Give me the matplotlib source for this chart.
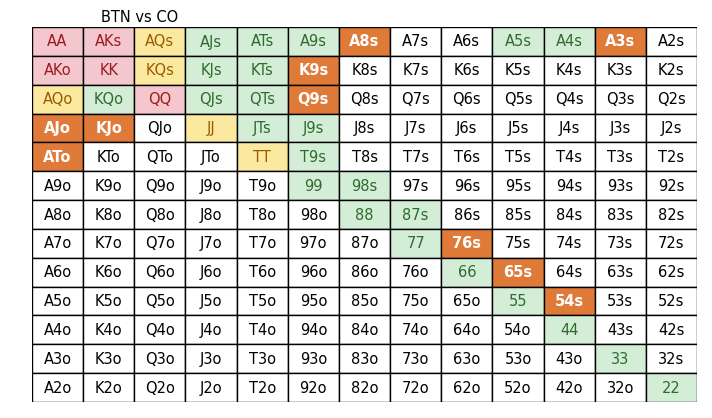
import matplotlib.pyplot as plt
from matplotlib.patches import Rectangle

ranks = ["A", "K", "Q", "J", "T", "9", "8", "7", "6", "5", "4", "3", "2"]
title = "BTN vs CO"

pink_hands = ["AA", "AKs", "AKo", "KK", "QQ"]
yellow_hands = ["AQs", "KQs", "AQo", "JJ", "TT"]
green_hands = ["AJs", "ATs", "A9s", "A5s", "A4s", "KJs", "KTs", "KQo", "QJs", "QTs",
               "JTs", "J9s", "T9s", "99", "98s", "88", "87s", "77", "66", "55", "44", "33", "22"]
orange_hands = ["A8s", "A3s", "K9s", "Q9s", "AJo", "KJo", "ATo", "76s", "65s", "54s"]

styles = {
    "pink": ("#F4C7CE", "#9C1C1C", "normal"),
    "yellow": ("#FCE9A0", "#9C5A00", "normal"),
    "green": ("#D4EDD6", "#2E6B2E", "normal"),
    "orange": ("#E07A38", "white", "bold"),
    "white": ("white", "black", "normal"),
}


def hand_name(i, j):
    if i == j:
        return ranks[i] + ranks[j]
    if j > i:
        return ranks[i] + ranks[j] + "s"
    return ranks[j] + ranks[i] + "o"


def group(h):
    if h in pink_hands:
        return "pink"
    if h in yellow_hands:
        return "yellow"
    if h in green_hands:
        return "green"
    if h in orange_hands:
        return "orange"
    return "white"


fig = plt.figure(figsize=(7.12, 4.18), dpi=100)
ax = fig.add_axes([32 / 712, 1 - 402 / 418, 665 / 712, 375 / 418])
n = len(ranks)
for i in range(n):
    for j in range(n):
        h = hand_name(i, j)
        fc, tc, fw = styles[group(h)]
        ax.add_patch(Rectangle((j, i), 1, 1, facecolor=fc, edgecolor="black", linewidth=1))
        ax.text(j + 0.5, i + 0.52, h, ha="center", va="center", color=tc,
                fontsize=10.5, fontweight=fw)
ax.set_xlim(0, n)
ax.set_ylim(n, 0)
ax.axis("off")
fig.text(140 / 712, 1 - 17 / 418, title, ha="center", va="center", fontsize=10.5)
fig.savefig("out.png", dpi=100)
